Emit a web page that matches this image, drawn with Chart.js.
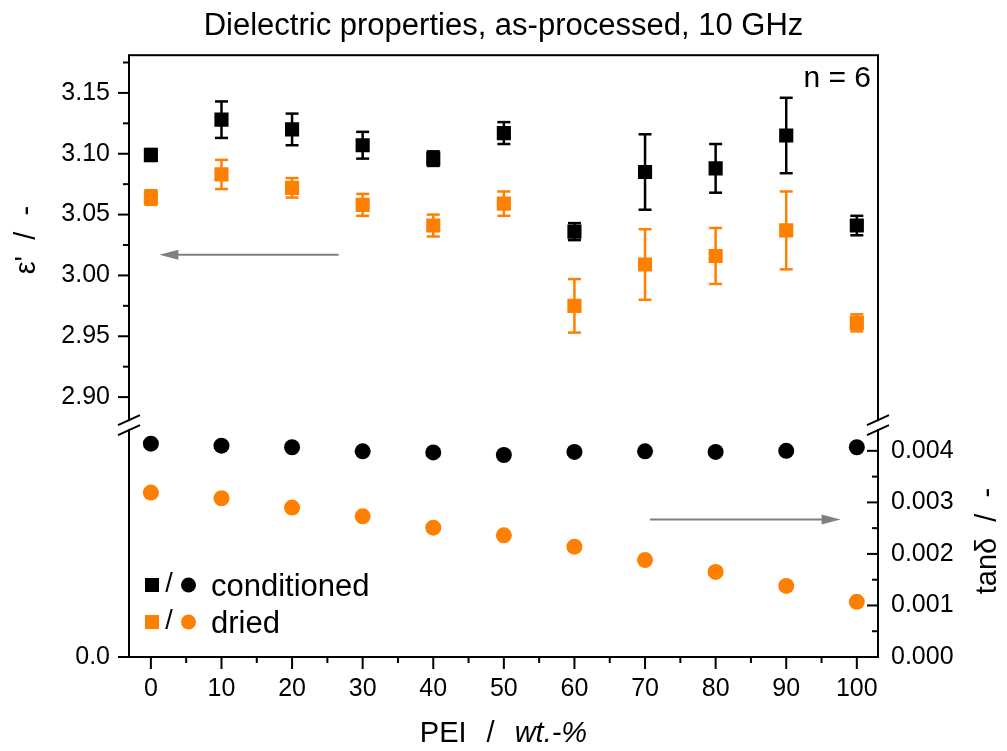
<!DOCTYPE html>
<html>
<head>
<meta charset="utf-8">
<script src="https://cdn.jsdelivr.net/npm/chart.js@4/dist/chart.umd.min.js"></script>
<style>
    html, body { margin: 0; padding: 0; background: #fff; }
</style>
</head>
<body>
<canvas id="dielectricChart" width="1007" height="751"></canvas>
<script>
const peiContent = [0, 10, 20, 30, 40, 50, 60, 70, 80, 90, 100];

const epsConditioned = [3.099, 3.128, 3.120, 3.107, 3.096, 3.117, 3.036, 3.085, 3.088, 3.115, 3.041];
const epsConditionedErr = [0.005, 0.015, 0.013, 0.011, 0.006, 0.009, 0.007, 0.031, 0.020, 0.031, 0.008];
const epsDried = [3.064, 3.083, 3.072, 3.058, 3.041, 3.059, 2.975, 3.009, 3.016, 3.037, 2.961];
const epsDriedErr = [0.006, 0.012, 0.008, 0.009, 0.009, 0.010, 0.022, 0.029, 0.023, 0.032, 0.007];

const tanConditioned = [0.00414, 0.00410, 0.00407, 0.00399, 0.00397, 0.00392, 0.00398, 0.00399, 0.00398, 0.00400, 0.00407];
const tanDried = [0.00319, 0.00308, 0.00290, 0.00273, 0.00251, 0.00236, 0.00214, 0.00188, 0.00165, 0.00138, 0.00107];

const xTicks = [0, 10, 20, 30, 40, 50, 60, 70, 80, 90, 100];
const epsTicks = [2.90, 2.95, 3.00, 3.05, 3.10, 3.15];
const lowTicks = [0];
const tanTicks = [0, 0.001, 0.002, 0.003, 0.004];

const FONT = "'Liberation Sans', Arial, sans-serif";
const BLACK = '#000000';
const ORANGE = '#ff7f00';
const GREY = '#808080';

const toPoints = ys => peiContent.map((x, i) => ({ x: x, y: ys[i] }));
const setTicks = values => scale => { scale.ticks = values.map(v => ({ value: v })); };
const tickFont = { family: FONT, size: 25 };

function line(ctx, x1, y1, x2, y2) {
    ctx.beginPath();
    ctx.moveTo(x1, y1);
    ctx.lineTo(x2, y2);
    ctx.stroke();
}

// error bars of the permittivity series
const errorBars = {
    id: 'errorBars',
    beforeDatasetsDraw(chart) {
        const { ctx, scales: { x, yEps } } = chart;
        const series = [[epsConditioned, epsConditionedErr, BLACK], [epsDried, epsDriedErr, ORANGE]];
        ctx.save();
        ctx.lineWidth = 2.5;
        series.forEach(([vals, errs, color]) => {
            ctx.strokeStyle = color;
            vals.forEach((v, i) => {
                const px = x.getPixelForValue(peiContent[i]);
                const top = yEps.getPixelForValue(v + errs[i]);
                const bot = yEps.getPixelForValue(v - errs[i]);
                line(ctx, px, top, px, bot);
                line(ctx, px - 6.5, top, px + 6.5, top);
                line(ctx, px - 6.5, bot, px + 6.5, bot);
            });
        });
        ctx.restore();
    }
};

// frame, tick marks, axis breaks, arrows, legend and titles
const decorations = {
    id: 'decorations',
    afterDraw(chart) {
        const { ctx, chartArea: area, scales: { x, yEps, yTan } } = chart;
        const brk = yEps.bottom;
        ctx.save();
        ctx.strokeStyle = BLACK;
        ctx.lineWidth = 2;
        ctx.strokeRect(area.left, area.top, area.right - area.left, area.bottom - area.top);

        epsTicks.forEach(v => line(ctx, area.left - 11, yEps.getPixelForValue(v), area.left, yEps.getPixelForValue(v)));
        epsTicks.map(v => v + 0.025).filter(v => v < yEps.max).forEach(v => {
            line(ctx, area.left - 6, yEps.getPixelForValue(v), area.left, yEps.getPixelForValue(v));
        });
        line(ctx, area.left - 11, area.bottom, area.left, area.bottom);

        xTicks.forEach(v => line(ctx, x.getPixelForValue(v), area.bottom, x.getPixelForValue(v), area.bottom + 12));
        xTicks.slice(1).forEach(v => line(ctx, x.getPixelForValue(v - 5), area.bottom, x.getPixelForValue(v - 5), area.bottom + 6));

        tanTicks.forEach(v => line(ctx, area.right - 11, yTan.getPixelForValue(v), area.right, yTan.getPixelForValue(v)));
        tanTicks.slice(0, -1).forEach(v => {
            const y = yTan.getPixelForValue(v + 0.0005);
            line(ctx, area.right - 6, y, area.right, y);
        });

        [area.left, area.right].forEach(ax => {
            ctx.fillStyle = '#ffffff';
            ctx.fillRect(ax - 3, brk - 4, 6, 8);
            line(ctx, ax - 11, brk - 0, ax + 11, brk - 10);
            line(ctx, ax - 11, brk + 10, ax + 11, brk + 0);
        });

        // arrows pointing to the axis of each block
        const arrow = (x1, x2, y) => {
            const dir = Math.sign(x2 - x1);
            ctx.strokeStyle = GREY;
            ctx.fillStyle = GREY;
            ctx.lineWidth = 2;
            line(ctx, x1, y, x2 - dir * 15, y);
            ctx.beginPath();
            ctx.moveTo(x2, y);
            ctx.lineTo(x2 - dir * 19, y - 5);
            ctx.lineTo(x2 - dir * 19, y + 5);
            ctx.closePath();
            ctx.fill();
        };
        arrow(x.getPixelForValue(26.6), x.getPixelForValue(1.2), yEps.getPixelForValue(3.017));
        arrow(x.getPixelForValue(70.7), x.getPixelForValue(97.7), yTan.getPixelForValue(0.00267));

        ctx.fillStyle = BLACK;
        ctx.font = `30px ${FONT}`;
        ctx.textAlign = 'right';
        ctx.textBaseline = 'alphabetic';
        ctx.fillText('n = 6', area.right - 7, 87);

        // legend
        const rows = [['conditioned', BLACK, 585], ['dried', ORANGE, 622]];
        rows.forEach(([label, color, y]) => {
            ctx.fillStyle = color;
            ctx.fillRect(area.left + 16, y - 7, 14, 14);
            ctx.beginPath();
            ctx.arc(area.left + 59.5, y, 7.5, 0, Math.PI * 2);
            ctx.fill();
            ctx.fillStyle = BLACK;
            ctx.font = `27px ${FONT}`;
            ctx.textAlign = 'center';
            ctx.textBaseline = 'middle';
            ctx.fillText('/', area.left + 40, y);
            ctx.font = `31px ${FONT}`;
            ctx.textAlign = 'left';
            ctx.textBaseline = 'alphabetic';
            ctx.fillText(label, area.left + 82, y + 11);
        });

        // x axis title with italic unit
        ctx.font = `29px ${FONT}`;
        ctx.textBaseline = 'middle';
        ctx.textAlign = 'left';
        const head = 'PEI';
        const unit = 'wt.-%';
        const wHead = ctx.measureText(head).width;
        const wSlash = ctx.measureText('/').width;
        ctx.font = `italic 29px ${FONT}`;
        const wUnit = ctx.measureText(unit).width;
        const gap = 20;
        let tx = (area.left + area.right) / 2 - (wHead + wSlash + wUnit + 2 * gap) / 2;
        ctx.font = `29px ${FONT}`;
        ctx.fillText(head, tx, 734);
        tx += wHead + gap;
        ctx.fillText('/', tx, 734);
        tx += wSlash + gap;
        ctx.font = `italic 29px ${FONT}`;
        ctx.fillText(unit, tx, 734);

        // right axis title, reading upwards
        ctx.translate(996, (yTan.top + yTan.bottom) / 2);
        ctx.rotate(-Math.PI / 2);
        ctx.font = `29px ${FONT}`;
        ctx.textAlign = 'center';
        ctx.textBaseline = 'alphabetic';
        ctx.fillText('tanδ  /  -', 0, 0);
        ctx.restore();
    }
};

const hidden = { display: false, drawTicks: false };

new Chart(document.getElementById('dielectricChart'), {
    type: 'scatter',
    data: {
        datasets: [
            { label: 'conditioned', data: toPoints(epsConditioned), yAxisID: 'yEps', pointStyle: 'rect', pointRadius: 10, backgroundColor: BLACK, borderWidth: 0 },
            { label: 'dried', data: toPoints(epsDried), yAxisID: 'yEps', pointStyle: 'rect', pointRadius: 10, backgroundColor: ORANGE, borderWidth: 0 },
            { label: 'conditioned', data: toPoints(tanConditioned), yAxisID: 'yTan', pointStyle: 'circle', pointRadius: 8, backgroundColor: BLACK, borderWidth: 0 },
            { label: 'dried', data: toPoints(tanDried), yAxisID: 'yTan', pointStyle: 'circle', pointRadius: 8, backgroundColor: ORANGE, borderWidth: 0 }
        ]
    },
    options: {
        responsive: false,
        animation: false,
        events: [],
        layout: { padding: 0 },
        plugins: {
            legend: { display: false },
            tooltip: { enabled: false },
            title: {
                display: true,
                text: 'Dielectric properties, as-processed, 10 GHz',
                color: BLACK,
                font: { family: FONT, size: 31, weight: 'normal' },
                padding: { top: 8, bottom: 10 }
            }
        },
        scales: {
            x: {
                type: 'linear', min: -3.1, max: 103,
                grid: hidden, border: { display: false },
                afterBuildTicks: setTicks(xTicks),
                afterFit: s => { s.height = 94; },
                ticks: { autoSkip: false, maxRotation: 0, padding: 17, color: BLACK, font: tickFont, callback: v => String(v) }
            },
            yEps: {
                type: 'linear', position: 'left', stack: 'left', stackWeight: 370, weight: 2,
                min: 2.877, max: 3.181,
                grid: hidden, border: { display: false },
                afterBuildTicks: setTicks(epsTicks),
                afterFit: s => { s.width = 129; },
                ticks: { autoSkip: false, padding: 19, color: BLACK, font: tickFont, callback: v => v.toFixed(2) },
                title: { display: true, text: "ε'  /  -", color: BLACK, font: { family: FONT, size: 29 }, padding: { top: 10, bottom: 0 } }
            },
            yLow: {
                type: 'linear', position: 'left', stack: 'left', stackWeight: 232, weight: 1,
                min: 0, max: 1,
                grid: hidden, border: { display: false },
                afterBuildTicks: setTicks(lowTicks),
                afterFit: s => { s.width = 129; },
                ticks: { autoSkip: false, padding: 19, color: BLACK, font: tickFont, callback: v => v.toFixed(1) }
            },
            yTop: {
                type: 'linear', position: 'right', stack: 'right', stackWeight: 370, weight: 1,
                min: 0, max: 1,
                grid: hidden, border: { display: false },
                afterFit: s => { s.width = 129; },
                ticks: { display: false }
            },
            yTan: {
                type: 'linear', position: 'right', stack: 'right', stackWeight: 232, weight: 2,
                min: 0, max: 0.0045,
                grid: hidden, border: { display: false },
                afterBuildTicks: setTicks(tanTicks),
                afterFit: s => { s.width = 129; },
                ticks: { autoSkip: false, padding: 13, color: BLACK, font: tickFont, callback: v => v.toFixed(3) }
            }
        }
    },
    plugins: [errorBars, decorations]
});
</script>
</body>
</html>
